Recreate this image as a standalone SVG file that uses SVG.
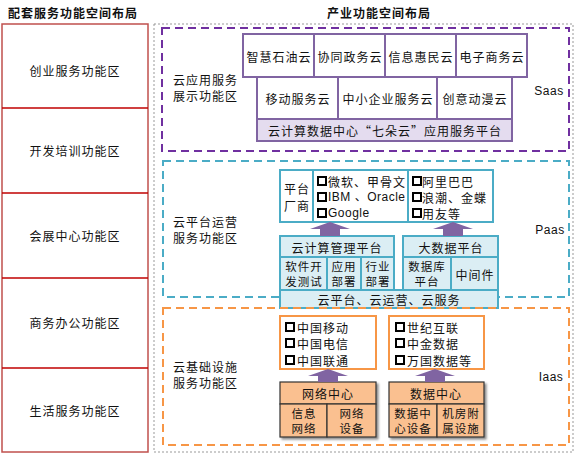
<svg xmlns="http://www.w3.org/2000/svg" width="579" height="454" viewBox="0 0 579 454">
<style>
text{font-family:"Noto Sans CJK SC","Liberation Sans",sans-serif;font-size:12px;fill:#111;text-anchor:middle;dominant-baseline:central;letter-spacing:1px}
.hd{font-weight:bold;font-size:12px}
.lt{text-anchor:start}
.sm{font-size:11.5px}
.lat{font-family:"Liberation Sans","Noto Sans CJK SC",sans-serif;letter-spacing:0.5px}
.pu{fill:#fff;stroke:#8064a2;stroke-width:2}
.pu2{fill:#e4dcef;stroke:#8064a2;stroke-width:2}
.cy{fill:#dbeef4;stroke:#4bacc6;stroke-width:2}
.cw{fill:#fff;stroke:#4bacc6;stroke-width:2}
.ow{fill:#fff;stroke:#f79646;stroke-width:2}
.or{fill:#fac090;stroke:#333;stroke-width:1.2}
.bul{fill:#fff;stroke:#000;stroke-width:2}
.arr{fill:#8064a2}
.zone{fill:none;stroke-width:2;stroke-dasharray:8 5}
</style>
<defs>
<filter id="sh" x="-10%" y="-10%" width="130%" height="130%"><feDropShadow dx="2" dy="2" stdDeviation="1.2" flood-color="#000" flood-opacity="0.45"/></filter>
</defs>
<rect width="579" height="454" fill="#fff"/>

<text class="hd lt" x="8" y="12">配套服务功能空间布局</text>
<text class="hd" x="379" y="12">产业功能空间布局</text>

<g id="left-zones">
<rect x="2" y="24" width="146" height="428" fill="#fff" stroke="#c0504d" stroke-width="1.5"/>
<g stroke="#c00000" stroke-width="1.5">
<line x1="2" y1="108" x2="148" y2="108"/>
<line x1="2" y1="193" x2="148" y2="193"/>
<line x1="2" y1="278" x2="148" y2="278"/>
<line x1="2" y1="368" x2="148" y2="368"/>
</g>
<text x="75" y="70">创业服务功能区</text>
<text x="75" y="150">开发培训功能区</text>
<text x="75" y="235">会展中心功能区</text>
<text x="75" y="322">商务办公功能区</text>
<text x="75" y="410">生活服务功能区</text>
</g>

<rect x="154" y="24" width="419" height="428" fill="none" stroke="#999" stroke-width="1" stroke-dasharray="2 2"/>

<g id="saas">
<rect class="zone" x="162" y="28" width="407" height="123" stroke="#7030a0"/>
<text class="lt" x="173" y="79">云应用服务<tspan x="173" dy="16">展示功能区</tspan></text>
<text class="lat" x="549" y="91">Saas</text>
<rect class="pu" x="243" y="34" width="71" height="43"/>
<rect class="pu" x="314" y="34" width="71" height="43"/>
<rect class="pu" x="385" y="34" width="71" height="43"/>
<rect class="pu" x="456" y="34" width="71" height="43"/>
<text x="279" y="56">智慧石油云</text>
<text x="350" y="56">协同政务云</text>
<text x="421" y="56">信息惠民云</text>
<text x="492" y="56">电子商务云</text>
<rect class="pu" x="257" y="77" width="81" height="42"/>
<rect class="pu" x="338" y="77" width="99" height="42"/>
<rect class="pu" x="437" y="77" width="75" height="42"/>
<text x="298" y="98">移动服务云</text>
<text x="388" y="98">中小企业服务云</text>
<text x="475" y="98">创意动漫云</text>
<rect class="pu2" x="257" y="119" width="255" height="22"/>
<text x="385" y="130">云计算数据中心“七朵云”应用服务平台</text>
</g>

<g id="paas">
<rect class="zone" x="163" y="161" width="406" height="136" stroke="#4bacc6"/>
<text class="lt" x="173" y="221">云平台运营<tspan x="173" dy="16">服务功能区</tspan></text>
<text class="lat" x="550" y="230">Paas</text>
<g id="vendors">
<rect class="cw" x="280" y="170" width="33" height="52"/>
<rect class="cw" x="313" y="170" width="95" height="52"/>
<rect class="cw" x="408" y="170" width="85" height="52"/>
<text x="297" y="188">平台<tspan x="297" dy="17">厂商</tspan></text>
<rect class="bul" x="318" y="177" width="8" height="8"/>
<rect class="bul" x="318" y="193" width="8" height="8"/>
<rect class="bul" x="318" y="209" width="8" height="8"/>
<text class="lt" x="328" y="181">微软、甲骨文<tspan x="328" dy="16" class="lat">IBM 、Oracle</tspan><tspan x="328" dy="16" class="lat">Google</tspan></text>
<rect class="bul" x="413" y="177" width="8" height="8"/>
<rect class="bul" x="413" y="193" width="8" height="8"/>
<rect class="bul" x="413" y="209" width="8" height="8"/>
<text class="lt" x="422" y="181">阿里巴巴<tspan x="422" dy="16">浪潮、金蝶</tspan><tspan x="422" dy="16">用友等</tspan></text>
</g>
<g id="cloud-mgmt">
<rect class="cy" x="280" y="236" width="114" height="21"/>
<text x="337" y="247">云计算管理平台</text>
<rect class="cy" x="280" y="257" width="47" height="33"/>
<rect class="cy" x="327" y="257" width="34" height="33"/>
<rect class="cy" x="361" y="257" width="33" height="33"/>
<text class="sm" x="304" y="266">软件开<tspan x="304" dy="15">发测试</tspan></text>
<text class="sm" x="344" y="266">应用<tspan x="344" dy="15">部署</tspan></text>
<text class="sm" x="378" y="266">行业<tspan x="378" dy="15">部署</tspan></text>
</g>
<g id="bigdata">
<rect class="cy" x="403" y="236" width="95" height="21"/>
<text x="451" y="247">大数据平台</text>
<rect class="cy" x="403" y="257" width="48" height="33"/>
<rect class="cy" x="451" y="257" width="47" height="33"/>
<text class="sm" x="427" y="266">数据库<tspan x="427" dy="15">平台</tspan></text>
<text x="475" y="274">中间件</text>
</g>
<g id="cloud-bar">
<rect class="cy" x="280" y="290" width="218" height="18"/>
<text x="389" y="299">云平台、云运营、云服务</text>
</g>
</g>

<g id="iaas">
<rect class="zone" x="163" y="308" width="406" height="137" stroke="#f79646"/>
<text class="lt" x="173" y="366">云基础设施<tspan x="173" dy="16">服务功能区</tspan></text>
<text class="lat" x="551" y="377">Iaas</text>
<g id="telecom">
<rect class="ow" x="280" y="316" width="96" height="53"/>
<rect class="bul" x="286" y="323" width="8" height="8"/>
<rect class="bul" x="286" y="339" width="8" height="8"/>
<rect class="bul" x="286" y="356" width="8" height="8"/>
<text class="lt" x="297" y="327">中国移动<tspan x="297" dy="16">中国电信</tspan><tspan x="297" dy="17">中国联通</tspan></text>
</g>
<g id="idc">
<rect class="ow" x="389" y="316" width="95" height="53"/>
<rect class="bul" x="396" y="323" width="8" height="8"/>
<rect class="bul" x="396" y="339" width="8" height="8"/>
<rect class="bul" x="396" y="356" width="8" height="8"/>
<text class="lt" x="407" y="327">世纪互联<tspan x="407" dy="16">中金数据</tspan><tspan x="407" dy="17">万国数据等</tspan></text>
</g>
<g id="network-center">
<g filter="url(#sh)">
<rect class="or" x="280" y="382" width="96" height="22"/>
<rect class="or" x="280" y="404" width="47" height="33"/>
<rect class="or" x="327" y="404" width="49" height="33"/>
</g>
<text x="328" y="393">网络中心</text>
<text class="sm" x="304" y="413">信息<tspan x="304" dy="15">网络</tspan></text>
<text class="sm" x="352" y="413">网络<tspan x="352" dy="15">设备</tspan></text>
</g>
<g id="data-center">
<g filter="url(#sh)">
<rect class="or" x="389" y="382" width="95" height="22"/>
<rect class="or" x="389" y="404" width="48" height="33"/>
<rect class="or" x="437" y="404" width="47" height="33"/>
</g>
<text x="436" y="393">数据中心</text>
<text class="sm" x="413" y="413">数据中<tspan x="413" dy="15">心设备</tspan></text>
<text class="sm" x="461" y="413">机房附<tspan x="461" dy="15">属设施</tspan></text>
</g>
</g>

<g id="connectors">
<path class="arr" d="M330,222 L350,229 L340,229 L340,236 L320,236 L320,229 L310,229 Z"/>
<path class="arr" d="M453,222 L473,229 L463,229 L463,236 L443,236 L443,229 L433,229 Z"/>
<path class="arr" d="M328,369 L348,376 L338,376 L338,382 L318,382 L318,376 L308,376 Z"/>
<path class="arr" d="M435,369 L455,376 L445,376 L445,382 L425,382 L425,376 L415,376 Z"/>
</g>
</svg>
